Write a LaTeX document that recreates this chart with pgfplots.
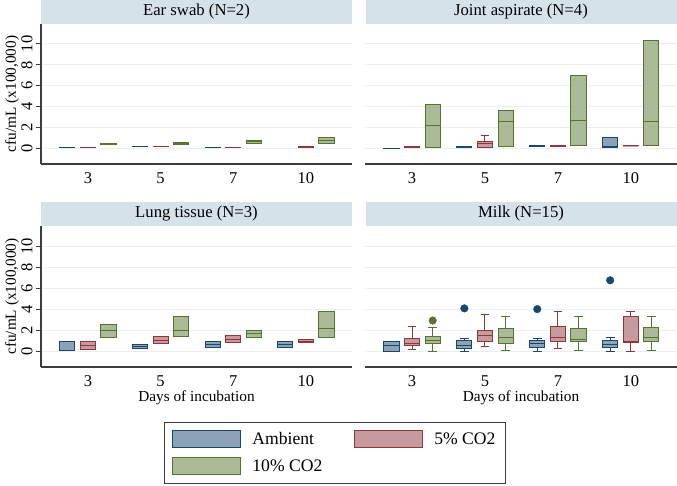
\documentclass[border=0pt]{standalone}
\usepackage{pgfplots}
\pgfplotsset{compat=1.18}
\usepgfplotslibrary{statistics}
\usepackage{fontspec}
\setmainfont{Liberation Serif}
\definecolor{navy}{RGB}{26,71,111}
\definecolor{navyf}{RGB}{140,163,183}
\definecolor{maroon}{RGB}{144,53,59}
\definecolor{maroonf}{RGB}{199,154,157}
\definecolor{forest}{RGB}{85,117,47}
\definecolor{forestf}{RGB}{170,186,151}
\definecolor{strip}{RGB}{214,226,233}
\definecolor{gridc}{RGB}{232,239,242}
\definecolor{axc}{RGB}{60,60,60}
\tikzset{
 amb/.style={draw=navy, fill=navyf, line width=1pt},
 r5/.style={draw=maroon, fill=maroonf, line width=1pt},
 g10/.style={draw=forest, fill=forestf, line width=1pt},
}
\pgfplotsset{
 boxplot/draw direction=y,
 boxplot/box extend=0.207,
 boxplot/whisker extend=0.12,
 every axis title shift=0pt,
 panel/.style={scale only axis, width=311pt, height=140pt,
  xmin=0.354, xmax=4.634, ymin=-1.45, ymax=11.9,
  xtick={1,2,3,4}, xticklabels={3,5,7,10}, ytick={0,2,4,6,8,10},
  ymajorgrids, grid style={gridc, line width=1.1pt},
  axis x line*=bottom, axis y line*=left,
  axis line style={-, axc, line width=1.1pt},
  xtick style={draw=none}, ytick style={axc, line width=0.9pt},
  tick align=outside, major tick length=5pt,
  tick label style={font=\fontsize{16.5}{19}\selectfont},
  label style={font=\fontsize{15.3}{18}\selectfont},
  /pgf/number format/assume math mode=true,
  title style={at={(0.5,1)}, anchor=south, fill=strip, minimum width=311pt, minimum height=24pt, inner sep=0pt, font=\fontsize{16.7}{19}\selectfont},
  yticklabel style={rotate=90, anchor=south},
  clip=false},
 nolab/.style={yticklabels={}, y axis line style={draw=none}, ytick style={draw=none}},
}
\newcommand{\bx}[7]{\addplot[#1, boxplot prepared={draw position=#2, lower whisker=#3, lower quartile=#4, median=#5, upper quartile=#6, upper whisker=#7}] coordinates {};}
\begin{document}
\begin{tikzpicture}
\useasboundingbox (0,0) rectangle (677pt,485pt);
% Ear swab
\begin{axis}[panel, at={(41pt,321pt)}, anchor=south west, title={Ear swab (N=2)},
 ylabel={cfu/mL (x100,000)}, ylabel style={at={(axis description cs:-0.093,0.5)}, anchor=center}]
\bx{amb}{0.717}{0.10}{0.10}{0.12}{0.15}{0.15}
\bx{r5}{1.0}{0.13}{0.13}{0.15}{0.17}{0.17}
\bx{g10}{1.283}{0.42}{0.42}{0.45}{0.48}{0.48}
\bx{amb}{1.717}{0.18}{0.18}{0.20}{0.22}{0.22}
\bx{r5}{2.0}{0.18}{0.18}{0.20}{0.22}{0.22}
\bx{g10}{2.283}{0.38}{0.38}{0.48}{0.60}{0.60}
\bx{amb}{2.717}{0.11}{0.11}{0.13}{0.15}{0.15}
\bx{r5}{3.0}{0.13}{0.13}{0.15}{0.17}{0.17}
\bx{g10}{3.283}{0.55}{0.55}{0.65}{0.76}{0.76}
\bx{r5}{4.0}{0.16}{0.16}{0.18}{0.20}{0.20}
\bx{g10}{4.283}{0.50}{0.50}{0.77}{1.05}{1.05}
\end{axis}
% Joint aspirate
\begin{axis}[panel, nolab, width=312pt, at={(365pt,321pt)}, anchor=south west, title={Joint aspirate (N=4)}]
\bx{amb}{0.717}{0.01}{0.01}{0.03}{0.05}{0.05}
\bx{r5}{1.0}{0.14}{0.14}{0.16}{0.18}{0.18}
\bx{g10}{1.283}{0.16}{0.16}{2.19}{4.22}{4.22}
\bx{amb}{1.717}{0.17}{0.17}{0.19}{0.21}{0.21}
\bx{r5}{2.0}{0.10}{0.10}{0.50}{0.73}{1.27}
\bx{g10}{2.283}{0.22}{0.22}{2.57}{3.68}{3.68}
\bx{amb}{2.717}{0.23}{0.23}{0.25}{0.27}{0.27}
\bx{r5}{3.0}{0.23}{0.23}{0.25}{0.27}{0.27}
\bx{g10}{3.283}{0.29}{0.29}{2.70}{6.98}{6.98}
\bx{amb}{3.717}{0.16}{0.16}{0.20}{1.11}{1.11}
\bx{r5}{4.0}{0.27}{0.27}{0.29}{0.31}{0.31}
\bx{g10}{4.283}{0.32}{0.32}{2.63}{10.35}{10.35}
\end{axis}
% Lung tissue
\begin{axis}[panel, height=141pt, at={(41pt,118pt)}, anchor=south west, title={Lung tissue (N=3)},
 ylabel={cfu/mL (x100,000)}, ylabel style={at={(axis description cs:-0.093,0.5)}, anchor=center},
 xlabel={Days of incubation}, xlabel style={at={(axis description cs:0.5,-0.22)}, anchor=center}]
\bx{amb}{0.717}{0.10}{0.10}{0.12}{0.95}{0.95}
\bx{r5}{1.0}{0.17}{0.17}{0.54}{0.95}{0.95}
\bx{g10}{1.283}{1.37}{1.37}{2.00}{2.54}{2.54}
\bx{amb}{1.717}{0.29}{0.29}{0.50}{0.70}{0.70}
\bx{r5}{2.0}{0.76}{0.76}{1.08}{1.43}{1.43}
\bx{g10}{2.283}{1.40}{1.40}{2.03}{3.36}{3.36}
\bx{amb}{2.717}{0.44}{0.44}{0.70}{0.95}{0.95}
\bx{r5}{3.0}{0.86}{0.86}{1.11}{1.52}{1.52}
\bx{g10}{3.283}{1.37}{1.37}{1.68}{1.97}{1.97}
\bx{amb}{3.717}{0.44}{0.44}{0.70}{0.95}{0.95}
\bx{r5}{4.0}{0.86}{0.86}{1.00}{1.20}{1.20}
\bx{g10}{4.283}{1.37}{1.37}{2.19}{3.84}{3.84}
\end{axis}
% Milk
\begin{axis}[panel, nolab, width=312pt, height=141pt, at={(365pt,118pt)}, anchor=south west, title={Milk (N=15)},
 xlabel={Days of incubation}, xlabel style={at={(axis description cs:0.5,-0.22)}, anchor=center}]
\bx{amb}{0.717}{0.06}{0.06}{0.54}{0.95}{0.95}
\bx{r5}{1.0}{0.19}{0.54}{0.73}{1.24}{2.38}
\bx{g10}{1.283}{0.03}{0.79}{1.08}{1.46}{2.25}
\bx{amb}{1.717}{0.00}{0.32}{0.63}{1.05}{1.24}
\bx{r5}{2.0}{0.48}{0.95}{1.56}{2.00}{3.56}
\bx{g10}{2.283}{0.10}{0.79}{1.33}{2.19}{3.37}
\bx{amb}{2.717}{0.00}{0.44}{0.73}{1.05}{1.27}
\bx{r5}{3.0}{0.29}{0.92}{1.33}{2.35}{3.81}
\bx{g10}{3.283}{0.13}{0.92}{1.20}{2.19}{3.33}
\bx{amb}{3.717}{0.00}{0.35}{0.67}{1.05}{1.30}
\bx{r5}{4.0}{0.00}{0.87}{1.00}{3.33}{3.78}
\bx{g10}{4.283}{0.13}{0.98}{1.33}{2.25}{3.33}
\addplot[only marks, mark=*, mark size=3.8pt, draw=navy, fill=navy] coordinates {(1.717,4.10) (2.717,4.03) (3.717,6.76)};
\addplot[only marks, mark=*, mark size=3.8pt, draw=forest, fill=forest] coordinates {(1.283,2.95)};
\end{axis}
% Legend
\begin{axis}[at={(0pt,0pt)}, anchor=south west, scale only axis, width=677pt, height=485pt,
 xmin=0, xmax=1, ymin=0, ymax=1, hide axis,
 legend columns=2,
 legend image code/.code={\draw[#1] (0pt,-8.5pt) rectangle (68pt,8.5pt);},
 legend style={at={(0.2423,0.1299)}, anchor=north west, draw=axc, line width=0.8pt,
  font=\fontsize{17.6}{20}\selectfont, inner xsep=8pt, inner ysep=8pt, row sep=9pt,
  /tikz/every odd column/.append style={column sep=9pt},
  /tikz/every even column/.append style={column sep=30pt}},
 legend cell align=left]
\addlegendimage{amb}\addlegendentry{Ambient}
\addlegendimage{r5}\addlegendentry{5\% CO2}
\addlegendimage{g10}\addlegendentry{10\% CO2}
\end{axis}
\end{tikzpicture}
\end{document}
